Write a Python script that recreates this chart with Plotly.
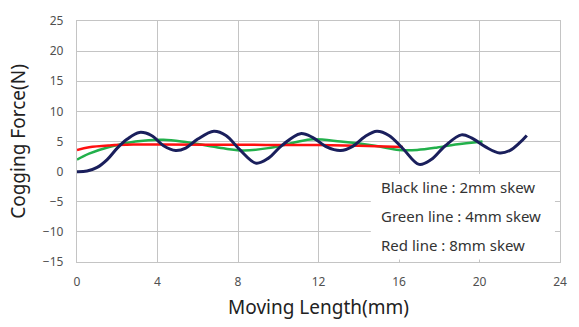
import plotly.graph_objects as go

# Black line: 2mm skew
black_x = [0, 0.5, 1.0, 1.5, 2.0, 2.5, 3.1, 3.7, 4.3, 4.9, 5.4, 6.0, 6.8, 7.4, 8.1, 8.9, 9.5, 10.2, 11.1, 11.7, 12.4, 13.1, 13.7, 14.3, 14.9, 15.5, 16.2, 17.0, 17.6, 18.3, 19.1, 19.6, 20.3, 21.0, 21.5, 22.0, 22.35]
black_y = [0, 0.1, 0.7, 2.0, 3.9, 5.4, 6.5, 6.0, 4.3, 3.5, 3.9, 5.4, 6.7, 6.0, 3.6, 1.4, 2.2, 4.4, 6.3, 5.7, 4.1, 3.5, 4.2, 5.8, 6.7, 6.0, 3.8, 1.2, 2.0, 4.3, 6.1, 5.6, 4.1, 3.1, 3.5, 4.8, 6.0]

# Green line: 4mm skew
green_x = [0, 0.6, 1.6, 2.9, 4.3, 5.4, 6.5, 7.4, 8.3, 9.5, 10.5, 11.6, 13.1, 14.8, 16.0, 16.9, 17.9, 18.8, 20.15]
green_y = [2.0, 3.0, 4.1, 5.0, 5.3, 4.9, 4.3, 3.8, 3.5, 3.9, 4.6, 5.35, 5.0, 4.3, 3.6, 3.6, 4.0, 4.5, 5.0]

# Red line: 8mm skew
red_x = [0, 0.6, 1.6, 2.8, 4.0, 8.0, 12.0, 14.0, 16.2]
red_y = [3.6, 4.05, 4.35, 4.5, 4.5, 4.45, 4.4, 4.3, 4.1]

x_ticks = [0, 4, 8, 12, 16, 20, 24]
y_ticks = [-15, -10, -5, 0, 5, 10, 15, 20, 25]
notes = ["Black line : 2mm skew", "Green line : 4mm skew", "Red line : 8mm skew"]

fig = go.Figure()
fig.add_trace(go.Scatter(x=green_x, y=green_y, mode="lines", line=dict(color="#22b04b", width=2.5, shape="spline")))
fig.add_trace(go.Scatter(x=red_x, y=red_y, mode="lines", line=dict(color="#ff1010", width=2.5, shape="spline")))
fig.add_trace(go.Scatter(x=black_x, y=black_y, mode="lines", line=dict(color="#1a1f5c", width=3, shape="spline")))

grid = "#c4c4c4"
fig.update_layout(
    width=579, height=327,
    margin=dict(l=77, r=16, t=14, b=65),
    paper_bgcolor="white", plot_bgcolor="white",
    showlegend=False,
    font=dict(family="Noto Sans", color="#404040"),
)
fig.update_xaxes(range=[0, 24], tickvals=x_ticks, showgrid=True, gridcolor=grid, gridwidth=1.3,
                 showline=True, linecolor=grid, linewidth=1.3, mirror=True, zeroline=False,
                 tickfont=dict(size=12, color="#505050"), ticklabelstandoff=8,
                 title=dict(text="Moving Length(mm)", font=dict(size=19, color="#222"), standoff=12))
fig.update_yaxes(range=[-15, 25], tickvals=y_ticks, showgrid=True, gridcolor=grid, gridwidth=1.3,
                 showline=True, linecolor=grid, linewidth=1.3, mirror=True, zeroline=False,
                 tickfont=dict(size=12, color="#505050"), ticklabelstandoff=10,
                 title=dict(text="Cogging Force(N)", font=dict(size=19, color="#222"), standoff=12))

fig.add_shape(type="rect", x0=14.6, x1=23.75, y0=-14.6, y1=-0.4, xref="x", yref="y",
              fillcolor="white", line=dict(width=0), layer="above")
for i, t in enumerate(notes):
    fig.add_annotation(x=15.0, y=-2.6 - i * 4.75, xref="x", yref="y", text=t, showarrow=False,
                       xanchor="left", yanchor="middle", font=dict(size=15, color="#333"))

fig.write_html("out.html")
